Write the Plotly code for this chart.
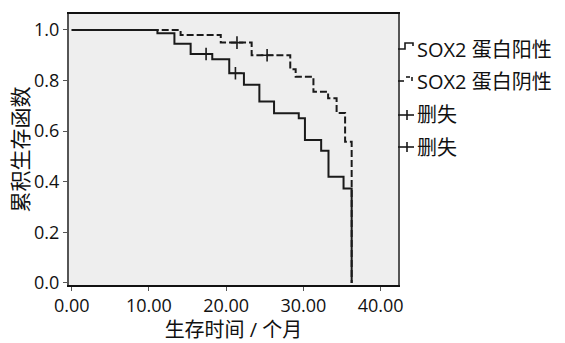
import plotly.graph_objects as go

# ---- data ----
pos_times = [0, 11.1, 13.3, 15.4, 18.2, 20.4, 22.3, 24.3, 26.2, 29.4, 30.2, 32.3, 33.25, 35.2, 36.25]
pos_surv = [1.0, 0.987, 0.945, 0.905, 0.884, 0.829, 0.783, 0.717, 0.671, 0.651, 0.565, 0.523, 0.42, 0.373, 0.0]
neg_times = [0, 14.1, 19.3, 23.3, 28.3, 29.0, 31.3, 33.2, 34.3, 35.4, 36.25]
neg_surv = [1.0, 0.98, 0.95, 0.90, 0.845, 0.815, 0.756, 0.73, 0.672, 0.558, 0.0]
pos_cens_t = [17.4, 21.2]
pos_cens_s = [0.905, 0.829]
neg_cens_t = [21.4, 25.3]
neg_cens_s = [0.95, 0.90]
x_ticks = [0, 10, 20, 30, 40]
y_ticks = [0, 0.2, 0.4, 0.6, 0.8, 1.0]
legend_labels = ["SOX2 蛋白阳性", "SOX2 蛋白阴性", "删失", "删失"]
x_title = "生存时间 / 个月"
y_title = "累积生存函数"

W, H = 565, 343
L, R, T, B = 69, 167, 14, 58
FONT = "Open Sans, Noto Sans CJK SC, sans-serif"
INK = "#1a1a1a"

fig = go.Figure()
fig.add_trace(go.Scatter(x=pos_times, y=pos_surv, mode="lines", line=dict(shape="hv", color=INK, width=2),
                         name=legend_labels[0], showlegend=False))
fig.add_trace(go.Scatter(x=neg_times, y=neg_surv, mode="lines",
                         line=dict(shape="hv", color=INK, width=2, dash="7px,3px"),
                         name=legend_labels[1], showlegend=False))
fig.add_trace(go.Scatter(x=pos_cens_t, y=pos_cens_s, mode="markers",
                         marker=dict(symbol="cross-thin", size=9, line=dict(width=1.6, color=INK)),
                         name=legend_labels[2], showlegend=False))
fig.add_trace(go.Scatter(x=neg_cens_t, y=neg_cens_s, mode="markers",
                         marker=dict(symbol="cross-thin", size=9, line=dict(width=1.6, color=INK)),
                         name=legend_labels[3], showlegend=False))

pw, ph = W - L - R, H - T - B
def px(x):
    return (x - L) / pw
def py(y):
    return (H - B - y) / ph

# manual legend
ys = [49, 81, 115, 147]
shapes = []
ln = dict(color=INK, width=1.6)
# positive glyph
shapes.append(dict(type="path", xref="paper", yref="paper", line=ln,
                   path=f"M {px(398)},{py(ys[0])} L {px(405)},{py(ys[0])} L {px(405)},{py(ys[0]-6)} L {px(413)},{py(ys[0]-6)} L {px(413)},{py(ys[0]-3)}"))
# negative glyph
for (x0, y0, x1, y1) in [(398, ys[1], 404, ys[1]), (406, ys[1]-4, 410, ys[1]-4), (412, ys[1]-4, 412, ys[1])]:
    shapes.append(dict(type="line", xref="paper", yref="paper", line=ln,
                       x0=px(x0), y0=py(y0), x1=px(x1), y1=py(y1)))
# censor glyphs
for yy in ys[2:]:
    shapes.append(dict(type="line", xref="paper", yref="paper", line=ln,
                       x0=px(398), y0=py(yy), x1=px(414), y1=py(yy)))
    shapes.append(dict(type="line", xref="paper", yref="paper", line=ln,
                       x0=px(407), y0=py(yy-5), x1=px(407), y1=py(yy+5)))

annotations = []
for lab, yy in zip(legend_labels, ys):
    annotations.append(dict(text=lab, xref="paper", yref="paper", x=px(415), y=py(yy),
                            xanchor="left", yanchor="middle", showarrow=False,
                            font=dict(family=FONT, size=20, color="#111")))

fig.update_layout(
    width=W, height=H, margin=dict(l=L, r=R, t=T, b=B, autoexpand=False),
    paper_bgcolor="white", plot_bgcolor="#eeeeee",
    showlegend=False, shapes=shapes, annotations=annotations,
    font=dict(family=FONT, size=16, color="#111"),
)
fig.update_xaxes(range=[-0.35, 42.25], tickvals=x_ticks, ticktext=[f"{v:.2f}" for v in x_ticks],
                 automargin=False,
                 showgrid=False, zeroline=False, showline=True, mirror=True, linecolor="#111", linewidth=1.5,
                 ticks="outside", ticklen=4, tickwidth=1, tickcolor="#555",
                 title=dict(text=x_title, font=dict(family=FONT, size=20), standoff=5),
                 tickfont=dict(family=FONT, size=18))
fig.update_yaxes(range=[-0.008, 1.063], tickvals=y_ticks, ticktext=[f"{v:.1f}" for v in y_ticks],
                 automargin=False,
                 showgrid=False, zeroline=False, showline=True, mirror=True, linecolor="#555", linewidth=2,
                 ticks="outside", ticklen=4, tickwidth=1, tickcolor="#555",
                 title=dict(text=y_title, font=dict(family=FONT, size=21), standoff=0),
                 tickfont=dict(family=FONT, size=18))

fig.write_html("out.html", config={"displayModeBar": False},
               post_script="document.body.style.margin='0';document.body.style.overflow='hidden';")
